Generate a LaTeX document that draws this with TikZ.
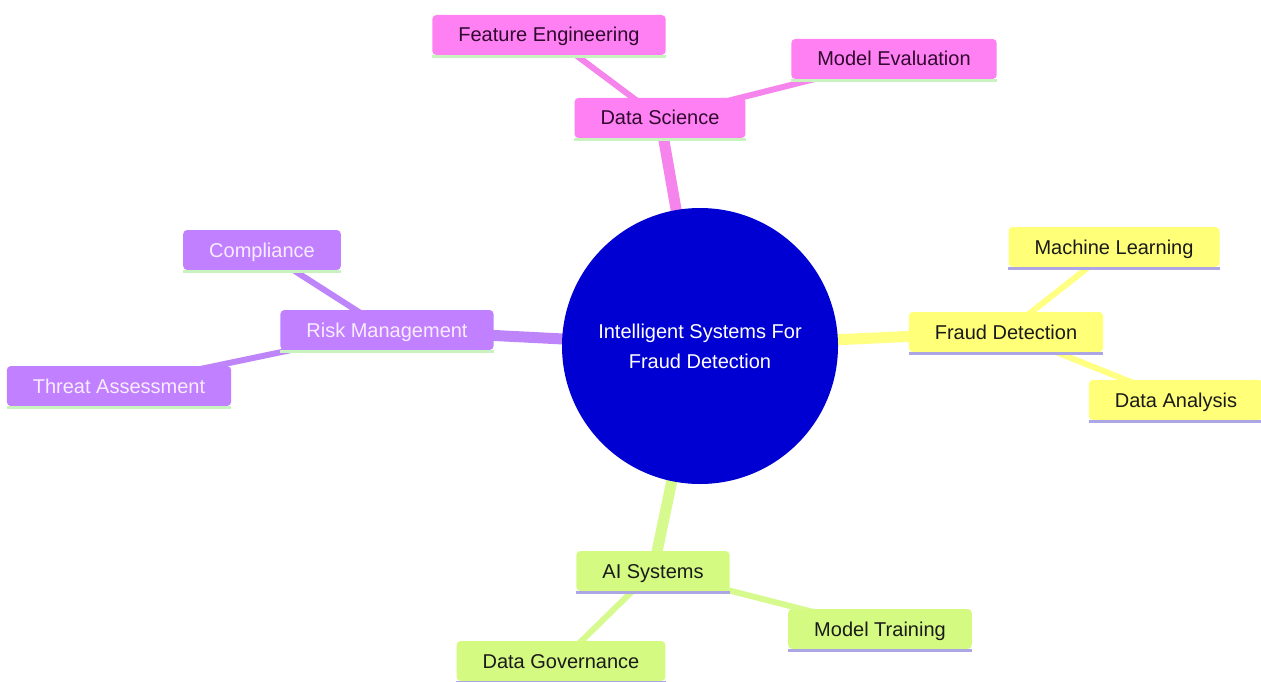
\documentclass[tikz,border=0pt]{standalone}
\usepackage{fontspec}
\setmainfont{Liberation Sans}
\usetikzlibrary{backgrounds}
\definecolor{pinkfill}{RGB}{255,128,242}
\definecolor{pinkedge}{RGB}{245,132,236}
\definecolor{pinktext}{RGB}{48,8,48}
\definecolor{purplefill}{RGB}{192,128,255}
\definecolor{purpleedge}{RGB}{190,132,250}
\definecolor{purpletext}{RGB}{250,236,255}
\definecolor{yellowfill}{RGB}{255,255,120}
\definecolor{yellowedge}{RGB}{255,255,130}
\definecolor{greenfill}{RGB}{212,250,130}
\definecolor{greenedge}{RGB}{214,250,142}
\definecolor{darktext}{RGB}{26,26,26}
\definecolor{greenline}{RGB}{200,242,190}
\definecolor{lavline}{RGB}{172,166,228}
\definecolor{rootblue}{RGB}{0,0,210}
\begin{document}
\begin{tikzpicture}[x=1pt,y=-1pt,
  box/.style={rectangle, rounded corners=4pt, minimum height=40pt, inner xsep=26pt, inner ysep=0pt,
    text height=14pt, text depth=0pt, font=\fontsize{20}{24}\selectfont},
  pinkbox/.style={box, fill=pinkfill, text=pinktext},
  purplebox/.style={box, fill=purplefill, text=purpletext},
  yellowbox/.style={box, fill=yellowfill, text=darktext},
  greenbox/.style={box, fill=greenfill, text=darktext},
  mainedge/.style={line width=11pt},
  leafedge/.style={line width=6pt},
  underline/.style={line width=3pt}
]
\useasboundingbox (0,0) rectangle (1261,682);

\node[circle, fill=rootblue, minimum size=276pt, inner sep=0pt, text=white, align=center,
  font=\fontsize{20}{30}\selectfont] (root) at (700,346) {Intelligent Systems For\\Fraud Detection};

\node[pinkbox] (ds) at (660,118) {Data Science};
\node[pinkbox] (fe) at (549,35) {Feature Engineering};
\node[pinkbox] (me) at (894,59) {Model Evaluation};

\node[purplebox] (rm) at (387,330) {Risk Management};
\node[purplebox] (co) at (262,250) {Compliance};
\node[purplebox] (ta) at (119,386) {Threat Assessment};

\node[yellowbox] (fd) at (1006,332) {Fraud Detection};
\node[yellowbox] (ml) at (1114,247) {Machine Learning};
\node[yellowbox] (da) at (1176,400) {Data Analysis};

\node[greenbox] (ai) at (653,571) {AI Systems};
\node[greenbox] (mt) at (880,629) {Model Training};
\node[greenbox] (dg) at (561,661) {Data Governance};

\foreach \n/\c in {ds/greenline,fe/greenline,me/greenline,rm/greenline,co/greenline,ta/greenline,
  fd/lavline,ml/lavline,da/lavline,ai/lavline,mt/lavline,dg/lavline}
  \draw[underline, \c] ([yshift=-1.5pt]\n.south west) -- ([yshift=-1.5pt]\n.south east);

\begin{scope}[on background layer]
  \draw[mainedge, pinkedge] (root.center) -- (ds.center);
  \draw[leafedge, pinkedge] (ds.center) -- (fe.center);
  \draw[leafedge, pinkedge] (ds.center) -- (me.center);
  \draw[mainedge, purpleedge] (root.center) -- (rm.center);
  \draw[leafedge, purpleedge] (rm.center) -- (co.center);
  \draw[leafedge, purpleedge] (rm.center) -- (ta.center);
  \draw[mainedge, yellowedge] (root.center) -- (fd.center);
  \draw[leafedge, yellowedge] (fd.center) -- (ml.center);
  \draw[leafedge, yellowedge] (fd.center) -- (da.center);
  \draw[mainedge, greenedge] (root.center) -- (ai.center);
  \draw[leafedge, greenedge] (ai.center) -- (mt.center);
  \draw[leafedge, greenedge] (ai.center) -- (dg.center);
\end{scope}
\end{tikzpicture}
\end{document}
